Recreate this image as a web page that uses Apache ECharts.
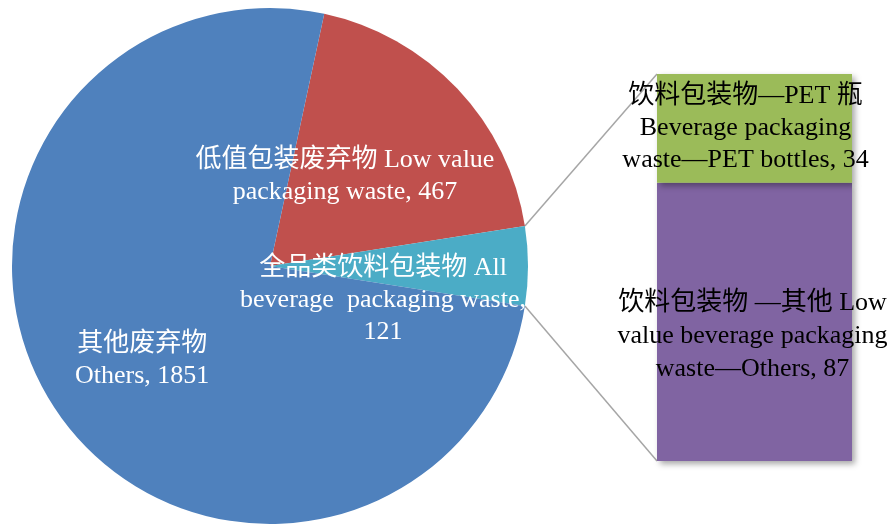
<!DOCTYPE html>
<html>
<head>
<meta charset="utf-8">
<script src="https://cdn.jsdelivr.net/npm/echarts@6/dist/echarts.min.js"></script>
<style>
html,body{margin:0;padding:0;background:#fff;}
#main{width:895px;height:527px;}
</style>
</head>
<body>
<div id="main"></div>
<script>
// pie: all waste
var pieNames=['低值包装废弃物 Low value\npackaging waste','全品类饮料包装物 All\nbeverage  packaging waste,','其他废弃物\nOthers'];
var pieValues=[467,121,1851];
var pieColors=['#C0504D','#4BACC6','#4F81BD'];
// bar: split of beverage packaging
var barNames=['饮料包装物 —其他 Low\nvalue beverage packaging\nwaste—Others','饮料包装物—PET 瓶\nBeverage packaging\nwaste—PET bottles'];
var barValues=[87,34];
var barColors=['#8064A2','#9BBB59'];

var FONT='"Liberation Serif", "Times New Roman", "Noto Sans CJK SC", serif';
var pieCenter=[270,266], pieR=258;
var barBox={left:657,right:852,top:74,bottom:461};

var total=pieValues.reduce(function(a,b){return a+b;},0);
var redDeg=pieValues[0]/total*360, bevDeg=pieValues[1]/total*360;
var startAngle=redDeg+bevDeg/2;

var pieShift=[[-21,1],[-19,34],[-19,19]];
var pieData=pieNames.map(function(n,i){
    var sep=(i==1)?'\n':', ';
    return {
        name:n, value:pieValues[i],
        itemStyle:{color:pieColors[i]},
        label:{offset:pieShift[i],formatter:n+sep+pieValues[i]}
    };
});

// connector lines from beverage slice edges to bar corners
var a=bevDeg/2*Math.PI/180;
var topPt=[pieCenter[0]+pieR*Math.cos(a),pieCenter[1]-pieR*Math.sin(a)];
var botPt=[pieCenter[0]+pieR*Math.cos(a),pieCenter[1]+pieR*Math.sin(a)];

var myChart=echarts.init(document.getElementById('main'));
var option={
    backgroundColor:'#fff',
    animation:false,
    grid:{left:barBox.left,right:895-barBox.right,top:barBox.top,bottom:527-barBox.bottom},
    xAxis:{type:'category',data:['bev'],show:false},
    yAxis:{type:'value',min:0,max:barValues[0]+barValues[1],show:false},
    graphic:[
        {type:'line',z:0,shape:{x1:topPt[0],y1:topPt[1],x2:barBox.left,y2:barBox.top},style:{stroke:'#A6A6A6',lineWidth:1.5}},
        {type:'line',z:0,shape:{x1:botPt[0],y1:botPt[1],x2:barBox.left,y2:barBox.bottom},style:{stroke:'#A6A6A6',lineWidth:1.5}}
    ],
    series:[
        {
            type:'pie',
            center:pieCenter,
            radius:[0,pieR],
            startAngle:startAngle,
            clockwise:true,
            silent:true,
            labelLine:{show:false},
            label:{
                show:true,position:'inside',color:'#fff',
                fontFamily:FONT,fontSize:26,lineHeight:32,align:'center'
            },
            data:pieData
        },
        {
            type:'bar',stack:'bev',barWidth:'100%',
            itemStyle:{color:barColors[0],shadowColor:'rgba(0,0,0,0.35)',shadowBlur:6,shadowOffsetX:3,shadowOffsetY:3},
            label:{show:true,position:'inside',offset:[-2,14],color:'#000',overflow:'none',
                fontFamily:FONT,fontSize:26,lineHeight:33,align:'center',
                formatter:barNames[0]+', '+barValues[0]},
            data:[barValues[0]]
        },
        {
            type:'bar',stack:'bev',barWidth:'100%',
            itemStyle:{color:barColors[1],shadowColor:'rgba(0,0,0,0.35)',shadowBlur:6,shadowOffsetX:3,shadowOffsetY:3},
            label:{show:true,position:'inside',offset:[-9,0],color:'#000',overflow:'none',
                fontFamily:FONT,fontSize:26,lineHeight:32,align:'center',
                formatter:barNames[1]+', '+barValues[1]},
            data:[barValues[1]]
        }
    ]
};
myChart.setOption(option);
</script>
</body>
</html>
